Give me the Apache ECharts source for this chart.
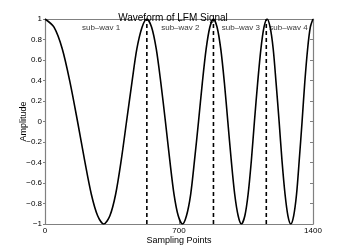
<!DOCTYPE html>
<html>
<head>
<meta charset="utf-8">
<script src="https://cdn.jsdelivr.net/npm/echarts@6/dist/echarts.min.js"></script>
<style>html,body{margin:0;padding:0;background:#fff;}#c{width:346px;height:252px;}</style>
</head>
<body>
<div id="c"></div>
<script>
// Waveform samples (sixteen per cycle: peaks, troughs, zero crossings, in-between points)
var sampleX = [0, 47, 90, 131, 170, 207, 242, 275, 307, 339, 369, 398, 426, 454, 480, 507,
               532, 557, 581, 605, 629, 652, 674, 696, 718, 739, 761, 781, 802, 822, 842, 861,
               880, 899, 918, 937, 955, 973, 991, 1009, 1026, 1044, 1061, 1078, 1094, 1111, 1128, 1144,
               1160, 1176, 1192, 1207, 1223, 1238, 1254, 1269, 1284, 1299, 1314, 1328, 1343, 1357, 1372, 1386,
               1400];
var amplitude = [1, 0.92, 0.71, 0.38, 0, -0.38, -0.71, -0.92, -1, -0.92, -0.71, -0.38, 0, 0.38, 0.71, 0.92,
                 1, 0.92, 0.71, 0.38, 0, -0.38, -0.71, -0.92, -1, -0.92, -0.71, -0.38, 0, 0.38, 0.71, 0.92,
                 1, 0.92, 0.71, 0.38, 0, -0.38, -0.71, -0.92, -1, -0.92, -0.71, -0.38, 0, 0.38, 0.71, 0.92,
                 1, 0.92, 0.71, 0.38, 0, -0.38, -0.71, -0.92, -1, -0.92, -0.71, -0.38, 0, 0.38, 0.71, 0.92,
                 1];
var dividerX = [532, 880, 1156];
var subLabels = ["sub\u2013wav 1", "sub\u2013wav 2", "sub\u2013wav 3", "sub\u2013wav 4"];
var subLabelX = [293, 707, 1023, 1272];
var subLabelY = 0.915;
var xTicks = [0, 700, 1400];

var font = 'Liberation Sans, Arial, Helvetica, sans-serif';
var axisGray = '#808080';

var curve = sampleX.map(function (x, i) { return [x, amplitude[i]]; });
var series = [{
  type: 'line', data: curve, smooth: 0.3, symbol: 'none',
  lineStyle: { color: '#000', width: 1.6 }, z: 3
}];
dividerX.forEach(function (x) {
  series.push({
    type: 'line', data: [[x, -1], [x, 1]], symbol: 'none',
    lineStyle: { color: '#000', width: 1.6, type: [4, 3] }, z: 4
  });
});
series.push({
  type: 'scatter', symbolSize: 0,
  data: subLabelX.map(function (x, i) { return { value: [x, subLabelY], name: subLabels[i] }; }),
  label: { show: true, position: 'inside', formatter: function (p) { return p.name; },
           color: '#000', fontSize: 8, fontFamily: font },
  z: 5
});

function yFmt(v) {
  var r = Math.round(v * 10) / 10;
  if (r === 0) return '0';
  var s = Math.abs(r).toString();
  return r < 0 ? '\u2212' + s : s;
}

var chart = echarts.init(document.getElementById('c'), null, { renderer: 'canvas' });
chart.setOption({
  animation: false,
  backgroundColor: '#fff',
  title: {
    text: 'Waveform of LFM Signal', left: 'center', top: 8,
    textStyle: { fontSize: 10, fontWeight: 'normal', color: '#000', fontFamily: font }
  },
  grid: { left: 45, top: 19, width: 268, height: 205, show: false },
  xAxis: [{
    type: 'value', min: 0, max: 1400, interval: 700, position: 'bottom',
    name: 'Sampling Points', nameLocation: 'middle', nameGap: 12, nameMoveOverlap: false,
    nameTextStyle: { fontSize: 9, color: '#000', fontFamily: font, verticalAlign: 'top' },
    axisLine: { show: true, onZero: false, lineStyle: { color: axisGray, width: 1.2 } },
    axisTick: { show: true, inside: true, length: 3, lineStyle: { color: axisGray } },
    axisLabel: { fontSize: 8, color: '#000', fontFamily: font, margin: 3,
                 formatter: function (v) { return xTicks.indexOf(v) >= 0 ? String(v) : ''; } },
    splitLine: { show: false }
  }, {
    type: 'value', min: 0, max: 1400, interval: 700, position: 'top',
    axisLine: { show: true, onZero: false, lineStyle: { color: axisGray, width: 1.2 } },
    axisTick: { show: true, inside: true, length: 3, lineStyle: { color: axisGray } },
    axisLabel: { show: false }, splitLine: { show: false }
  }],
  yAxis: [{
    type: 'value', min: -1, max: 1, interval: 0.2, position: 'left',
    name: 'Amplitude', nameLocation: 'middle', nameGap: 17, nameRotate: 90, nameMoveOverlap: false,
    nameTextStyle: { fontSize: 9, color: '#000', fontFamily: font },
    axisLine: { show: true, onZero: false, lineStyle: { color: axisGray, width: 1.2 } },
    axisTick: { show: true, inside: false, length: 2, lineStyle: { color: axisGray } },
    axisLabel: { fontSize: 8, color: '#000', fontFamily: font, margin: 3, formatter: yFmt },
    splitLine: { show: false }
  }, {
    type: 'value', min: -1, max: 1, interval: 0.2, position: 'right',
    axisLine: { show: true, onZero: false, lineStyle: { color: axisGray, width: 1.2 } },
    axisTick: { show: true, inside: true, length: 3, lineStyle: { color: axisGray } },
    axisLabel: { show: false }, splitLine: { show: false }
  }],
  series: series
});
</script>
</body>
</html>
